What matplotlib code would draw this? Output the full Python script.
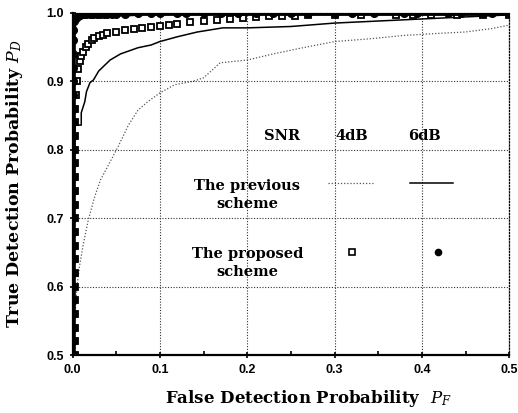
import matplotlib
matplotlib.use('Agg')
import matplotlib.pyplot as plt
from matplotlib.lines import Line2D
from matplotlib.ticker import MultipleLocator

plt.rcParams['mathtext.fontset'] = 'dejavuserif'

# previous scheme, SNR 4dB (thin dotted line)
prev4_x = [0.0, 0.002, 0.004, 0.005, 0.008, 0.012, 0.018, 0.025, 0.032, 0.040, 0.052,
           0.064, 0.075, 0.086, 0.100, 0.117, 0.138, 0.150, 0.163, 0.169, 0.200,
           0.230, 0.260, 0.300, 0.340, 0.380, 0.420, 0.450, 0.480, 0.500]
prev4_y = [0.500, 0.540, 0.580, 0.600, 0.630, 0.660, 0.697, 0.730, 0.756, 0.775, 0.804,
           0.836, 0.858, 0.870, 0.883, 0.895, 0.900, 0.905, 0.920, 0.927, 0.931,
           0.940, 0.948, 0.958, 0.962, 0.967, 0.970, 0.972, 0.977, 0.982]

# previous scheme, SNR 6dB (thin solid line)
prev6_x = [0.0, 0.003, 0.010, 0.010, 0.014, 0.016, 0.020, 0.024, 0.030, 0.043, 0.055,
           0.075, 0.090, 0.100, 0.120, 0.143, 0.172, 0.200, 0.250, 0.300, 0.350,
           0.400, 0.450, 0.500]
prev6_y = [0.500, 0.836, 0.836, 0.854, 0.870, 0.885, 0.898, 0.902, 0.915, 0.931, 0.940,
           0.949, 0.953, 0.958, 0.965, 0.972, 0.978, 0.978, 0.980, 0.985, 0.988,
           0.991, 0.994, 0.997]

# proposed scheme, SNR 4dB (open squares)
prop4_x = [0.003, 0.003, 0.003, 0.003, 0.003, 0.003, 0.003, 0.003, 0.003, 0.003, 0.003,
           0.003, 0.003, 0.003, 0.003, 0.003, 0.003, 0.003, 0.003, 0.004, 0.005,
           0.006, 0.008, 0.010, 0.012, 0.015, 0.018, 0.022, 0.025, 0.030, 0.035,
           0.040, 0.050, 0.060, 0.070, 0.080, 0.090, 0.100, 0.110, 0.120, 0.135,
           0.150, 0.165, 0.180, 0.195, 0.210, 0.225, 0.240, 0.255, 0.270, 0.300,
           0.330, 0.370, 0.390, 0.410, 0.440, 0.470, 0.500]
prop4_y = [0.500, 0.520, 0.540, 0.560, 0.580, 0.600, 0.620, 0.640, 0.660, 0.680, 0.700,
           0.720, 0.740, 0.760, 0.780, 0.800, 0.820, 0.840, 0.860, 0.880, 0.900,
           0.918, 0.930, 0.937, 0.943, 0.950, 0.955, 0.960, 0.963, 0.966, 0.968,
           0.970, 0.972, 0.975, 0.976, 0.978, 0.979, 0.981, 0.982, 0.984, 0.986,
           0.988, 0.989, 0.991, 0.993, 0.994, 0.995, 0.996, 0.996, 0.997, 0.997,
           0.997, 0.997, 0.997, 0.997, 0.997, 0.997, 0.997]

# proposed scheme, SNR 6dB (filled circles)
prop6_x = [0.001, 0.001, 0.001, 0.001, 0.001, 0.001, 0.001, 0.001, 0.001, 0.001, 0.001,
           0.001, 0.001, 0.001, 0.001, 0.001, 0.001, 0.001, 0.001, 0.001, 0.001,
           0.001, 0.001, 0.001, 0.001, 0.002, 0.004, 0.006, 0.008, 0.010, 0.013,
           0.016, 0.020, 0.024, 0.028, 0.032, 0.036, 0.040, 0.045, 0.050, 0.060,
           0.075, 0.090, 0.100, 0.120, 0.130, 0.150, 0.170, 0.190, 0.210, 0.230,
           0.250, 0.270, 0.300, 0.320, 0.345, 0.380, 0.395, 0.430, 0.445, 0.470,
           0.480, 0.500]
prop6_y = [0.500, 0.520, 0.540, 0.560, 0.580, 0.600, 0.620, 0.640, 0.660, 0.680, 0.700,
           0.720, 0.740, 0.760, 0.780, 0.800, 0.820, 0.840, 0.860, 0.880, 0.900,
           0.920, 0.940, 0.960, 0.975, 0.988, 0.993, 0.995, 0.997, 0.998, 0.998,
           0.998, 0.998, 0.998, 0.998, 0.998, 0.998, 0.998, 0.998, 0.998, 0.998,
           0.999, 0.999, 0.999, 0.999, 0.999, 0.999, 0.999, 0.999, 0.999, 0.999,
           0.999, 0.999, 0.999, 0.999, 0.999, 0.999, 0.999, 0.999, 0.999, 0.999,
           0.999, 0.999]

serif = ['DejaVu Serif']
sans = ['Liberation Sans', 'DejaVu Sans']

fig = plt.figure(figsize=(5.18, 4.13), dpi=100)
ax = fig.add_axes([0.140, 0.140, 0.843, 0.829])

ax.plot(prev4_x, prev4_y, color='#555555', lw=0.9, ls=(0, (1, 1.5)), zorder=3)
ax.plot(prev6_x, prev6_y, color='black', lw=1.1, zorder=3)
ax.plot(prop4_x, prop4_y, ls='none', marker='s', ms=5, mfc='white', mec='black',
        mew=1.3, zorder=4)
# the dense circles near x = 0 merge into a solid bar
ax.plot(prop6_x, prop6_y, color='black', lw=3.5, marker='o', ms=5.5, mfc='black',
        mec='black', zorder=5)

ax.set_xlim(0.0, 0.5)
ax.set_ylim(0.5, 1.0)
ax.xaxis.set_major_locator(MultipleLocator(0.1))
ax.xaxis.set_minor_locator(MultipleLocator(0.05))
ax.yaxis.set_major_locator(MultipleLocator(0.1))
ax.tick_params(axis='both', which='major', direction='inout', length=5, width=1.2,
               labelsize=9)
ax.tick_params(axis='x', which='minor', direction='in', length=3, width=1.2)
for lab in ax.get_xticklabels() + ax.get_yticklabels():
    lab.set_family(sans)
    lab.set_fontweight('bold')

ax.grid(True, which='major', color='#333333', ls=(0, (1, 1.5)), lw=0.8)
for side in ['left', 'bottom']:
    ax.spines[side].set_linewidth(1.6)
for side in ['top', 'right']:
    ax.spines[side].set_linestyle((0, (1, 1.5)))
    ax.spines[side].set_linewidth(0.9)

ax.set_xlabel(r'False Detection Probability  $\boldsymbol{P_F}$', family=serif,
              fontweight='bold', fontsize=12)
ax.set_ylabel(r'True Detection Probability $P_D$', family=serif,
              fontweight='bold', fontsize=12.5)
ax.xaxis.set_label_coords(0.54, -0.095)
ax.yaxis.set_label_coords(-0.108, 0.5)

# table-like legend
lt = dict(family=serif, fontsize=10.5, fontweight='bold', ha='center', va='center',
          transform=ax.transAxes)
ax.text(0.48, 0.64, 'SNR', **lt)
ax.text(0.64, 0.64, '4dB', **lt)
ax.text(0.805, 0.64, '6dB', **lt)
ax.text(0.40, 0.468, 'The previous\nscheme', linespacing=1.35, **lt)
ax.text(0.40, 0.268, 'The proposed\nscheme', linespacing=1.35, **lt)
ax.add_line(Line2D([0.585, 0.688], [0.502, 0.502], transform=ax.transAxes,
                   color='#555555', lw=0.9, ls=(0, (1, 1.5))))
ax.add_line(Line2D([0.773, 0.872], [0.502, 0.502], transform=ax.transAxes,
                   color='black', lw=1.1))
ax.add_line(Line2D([0.64], [0.30], transform=ax.transAxes, ls='none', marker='s',
                   ms=4, mfc='white', mec='black', mew=1.2))
ax.add_line(Line2D([0.836], [0.30], transform=ax.transAxes, ls='none', marker='o',
                   ms=4.5, mfc='black', mec='black'))

fig.savefig('out.png', dpi=100)
